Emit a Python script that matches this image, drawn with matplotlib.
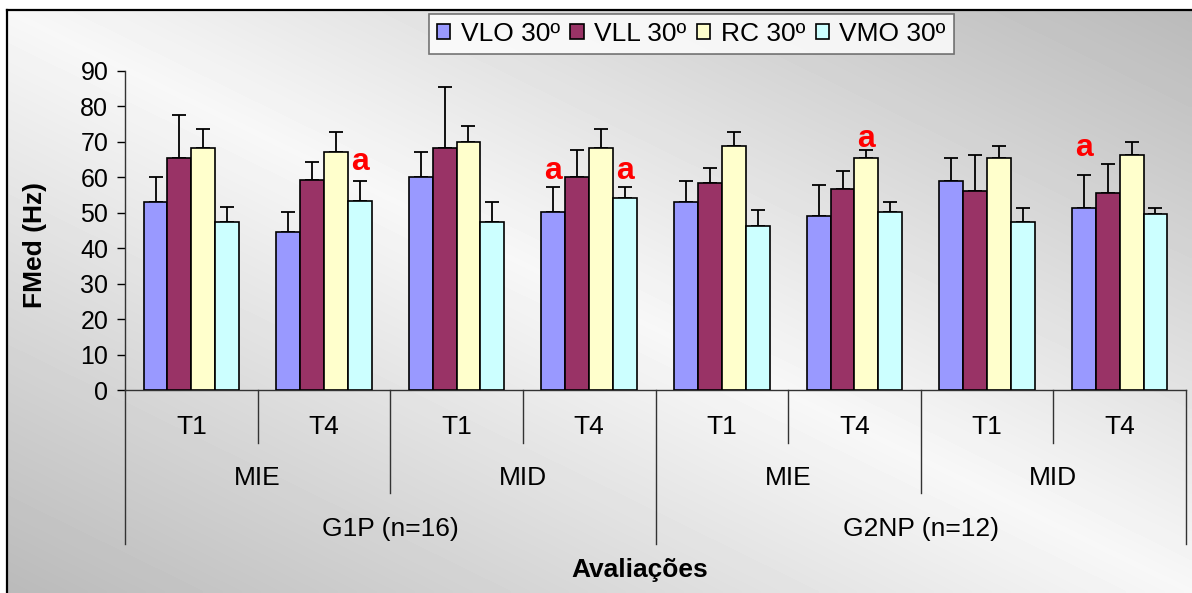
import numpy as np
import matplotlib
matplotlib.use("Agg")
import matplotlib.pyplot as plt
from matplotlib.patches import Patch

plt.rcParams['font.family'] = ['Liberation Sans', 'DejaVu Sans']

# dados (FMed em Hz), 8 avaliações x 4 músculos
series = ["VLO 30º", "VLL 30º", "RC 30º", "VMO 30º"]
colors = ["#9999ff", "#993366", "#ffffcc", "#ccffff"]
momentos = ["T1", "T4", "T1", "T4", "T1", "T4", "T1", "T4"]
membros = ["MIE", "MID", "MIE", "MID"]
grupos = ["G1P (n=16)", "G2NP (n=12)"]

vlo = [53.0, 44.6, 60.0, 50.1, 53.0, 49.0, 58.9, 51.2]
vll = [65.5, 59.3, 68.3, 60.0, 58.3, 56.7, 56.2, 55.6]
rc = [68.3, 67.1, 69.9, 68.3, 68.7, 65.5, 65.5, 66.1]
vmo = [47.4, 53.4, 47.4, 54.0, 46.3, 50.1, 47.4, 49.5]

# topo das barras de erro (média + DP)
vlo_top = [60.0, 50.2, 67.1, 57.2, 58.9, 57.9, 65.5, 60.6]
vll_top = [77.6, 64.4, 85.3, 67.7, 62.7, 61.6, 66.1, 63.8]
rc_top = [73.7, 72.6, 74.3, 73.7, 72.6, 67.6, 68.8, 69.9]
vmo_top = [51.7, 58.9, 52.9, 57.2, 50.6, 52.9, 51.2, 51.2]

# diferenças significativas "a": (avaliação, músculo, altura)
sig = [(1, 3, 60.7), (3, 0, 58.2), (3, 3, 58.3), (5, 2, 67.3), (7, 0, 64.7)]

means = [vlo, vll, rc, vmo]
tops = [vlo_top, vll_top, rc_top, vmo_top]

W, H = 1192, 593
fig = plt.figure(figsize=(W / 100, H / 100), dpi=100)

# fundo com gradiente diagonal dentro da moldura
bg = fig.add_axes([7 / W, 0, 1 - 7 / W, 1 - 10 / H], zorder=0)
u, w = np.meshgrid(np.linspace(0, 1, 300), np.linspace(0, 1, 150))
v = np.abs(u - w)
grad = 0.97 - 0.24 * v
bg.imshow(grad, cmap="gray", vmin=0, vmax=1, aspect="auto",
          extent=[0, 1, 0, 1], origin="upper", interpolation="bilinear")
bg.set_xticks([])
bg.set_yticks([])
for s in ["right", "bottom"]:
    bg.spines[s].set_visible(False)
for s in ["left", "top"]:
    bg.spines[s].set_linewidth(1.6)
    bg.spines[s].set_color("black")

ax = fig.add_axes([125 / W, 1 - 390 / H, (1186 - 125) / W, (390 - 70.7) / H], zorder=2)
ax.patch.set_alpha(0)

n = len(momentos)
x = np.arange(n) + 0.5
bw = 0.18
for k in range(4):
    xs = x + (k - 1.5) * bw
    ax.bar(xs, means[k], width=bw, color=colors[k], edgecolor="black",
           linewidth=1.2, zorder=3)
    up = np.array(tops[k]) - np.array(means[k])
    ax.errorbar(xs, means[k], yerr=[np.zeros(n), up], fmt="none",
                ecolor="black", elinewidth=1.3, capsize=5, capthick=1.3, zorder=2)

for g, k, y in sig:
    ax.text(x[g] + (k - 1.5) * bw, y - 0.8, "a", color="red", fontsize=23,
            fontweight="bold", ha="center", va="bottom", zorder=4)

ax.set_xlim(0, n)
ax.set_ylim(0, 90)
ax.set_yticks(range(0, 91, 10))
ax.tick_params(axis="y", labelsize=18, length=6, width=1, pad=6)
ax.set_xticks([])
for s in ["top", "right"]:
    ax.spines[s].set_visible(False)
for s in ["left", "bottom"]:
    ax.spines[s].set_linewidth(1)
    ax.spines[s].set_color("#333333")

# eixo de categorias em níveis
tr = ax.get_xaxis_transform()
ah = 390 - 70.7
def yax(py):
    return (390 - py) / ah

for i in range(n + 1):
    if i % 4 == 0:
        yb = yax(544)
    elif i % 2 == 0:
        yb = yax(493)
    else:
        yb = yax(443)
    ax.plot([i, i], [0, yb], color="#333333", lw=1, transform=tr, clip_on=False)

for i, t in enumerate(momentos):
    ax.text(i + 0.5, yax(427), t, transform=tr, ha="center", va="center", fontsize=19)
for i, t in enumerate(membros):
    ax.text(2 * i + 1, yax(478), t, transform=tr, ha="center", va="center", fontsize=19)
for i, t in enumerate(grupos):
    ax.text(4 * i + 2, yax(529), t, transform=tr, ha="center", va="center", fontsize=19)

fig.text(640 / W, 1 - 570 / H, "Avaliações", ha="center", va="center",
         fontsize=19, fontweight="bold")
fig.text(35 / W, 1 - 245 / H, "FMed (Hz)", ha="center", va="center",
         fontsize=19, fontweight="bold", rotation=90)

handles = [Patch(facecolor=c, edgecolor="black", linewidth=1.2) for c in colors]
leg = fig.legend(handles, series, loc="upper left", bbox_to_anchor=(429 / W, 1 - 14 / H),
                 ncol=4, fontsize=19, frameon=True, fancybox=False, borderpad=0.3,
                 handlelength=0.5, handleheight=0.5, handletextpad=0.4,
                 columnspacing=0.4, borderaxespad=0)
leg.get_frame().set_edgecolor("#555555")
leg.get_frame().set_linewidth(1.2)
leg.set_zorder(5)

fig.savefig("out.png", dpi=100)
